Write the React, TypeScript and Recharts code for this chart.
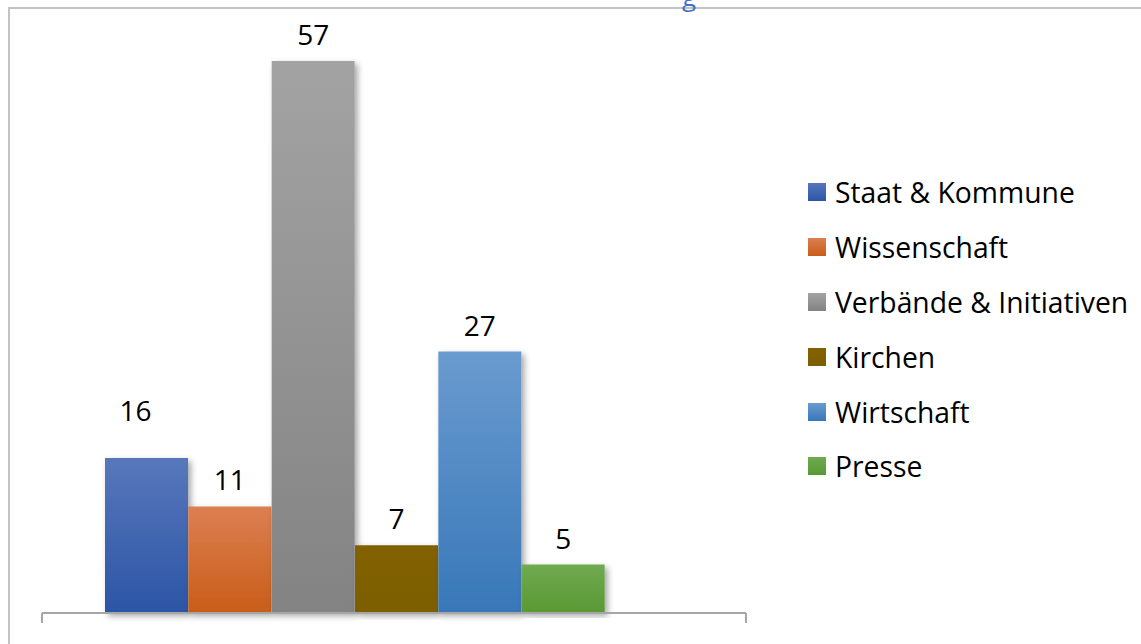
import { Bar, BarChart, Cell, LabelList, XAxis, YAxis } from "recharts";

const groups = [
  "Staat & Kommune",
  "Wissenschaft",
  "Verbände & Initiativen",
  "Kirchen",
  "Wirtschaft",
  "Presse",
];
const counts = [16, 11, 57, 7, 27, 5];
// [top, bottom] of each bar's gradient
const shades = [
  ["#5877bb", "#2c55a6"],
  ["#dc7f52", "#c85d18"],
  ["#a3a3a3", "#838383"],
  ["#826200", "#7d5e00"],
  ["#6a9bcf", "#3877b8"],
  ["#6fab50", "#5a9834"],
];

const rows = groups.map((name, i) => ({ name, value: counts[i] }));
const font = "'Open Sans', sans-serif";

function ValueLabel(props: any) {
  const { x, y, width, value, index } = props;
  // Excel had the first label dragged up and to the left
  const lift = index === 0 ? 37 : 16;
  const shift = index === 0 ? -11 : 0;
  return (
    <text
      x={x + width / 2 + shift}
      y={y - lift}
      textAnchor="middle"
      fontSize={28}
      fontFamily={font}
      fill="#000"
    >
      {value}
    </text>
  );
}

function SideLegend() {
  return (
    <div style={{ fontFamily: font, fontSize: 28.3, color: "#000" }}>
      {groups.map((g, i) => (
        <div
          key={g}
          style={{ display: "flex", alignItems: "center", height: 54.8, whiteSpace: "nowrap" }}
        >
          <span
            style={{
              display: "inline-block",
              width: 18,
              height: 18,
              marginRight: 9,
              background: `linear-gradient(${shades[i][0]}, ${shades[i][1]})`,
            }}
          />
          {g}
        </div>
      ))}
    </div>
  );
}

export default function App() {
  return (
    <div style={{ position: "absolute", left: 0, top: 0, width: 1141, height: 644, background: "#fff", overflow: "hidden" }}>
      <div
        style={{
          position: "absolute",
          left: 8,
          top: 7,
          right: -10,
          bottom: -10,
          borderTop: "2px solid #c3c3c3",
          borderLeft: "2px solid #c3c3c3",
        }}
      />
      <div
        style={{
          position: "absolute",
          left: 682,
          top: -22,
          fontFamily: font,
          fontSize: 26,
          color: "#4472c4",
        }}
      >
        g
      </div>
      <div style={{ position: "absolute", left: 0, top: 0 }}>
        <BarChart
          width={1141}
          height={644}
          data={rows}
          margin={{ top: 32, right: 395, left: 42, bottom: 21 }}
          barCategoryGap={0}
          barGap={0}
        >
          <defs>
            {shades.map((s, i) => (
              <linearGradient key={i} id={`g${i}`} x1="0" y1="0" x2="0" y2="1">
                <stop offset="0%" stopColor={s[0]} />
                <stop offset="100%" stopColor={s[1]} />
              </linearGradient>
            ))}
            <filter id="shadow" x="-20%" y="-5%" width="150%" height="115%">
              <feDropShadow dx={3} dy={3} stdDeviation={3} floodColor="#000" floodOpacity={0.35} />
            </filter>
          </defs>
          <XAxis dataKey="name" hide height={0} padding={{ left: 63, right: 141 }} />
          {/* plain baseline with end ticks, like Excel's single-category axis */}
          <XAxis
            xAxisId="frame"
            type="number"
            dataKey={() => 1}
            domain={[0, 1]}
            allowDataOverflow
            ticks={[0, 1]}
            interval={0}
            tickFormatter={() => ""}
            tickSize={10}
            height={10}
            stroke="#a6a6a6"
            strokeWidth={2}
          />
          <YAxis hide domain={[0, 60]} />
          <Bar dataKey="value" isAnimationActive={false} filter="url(#shadow)">
            {rows.map((r, i) => (
              <Cell key={r.name} fill={`url(#g${i})`} />
            ))}
            <LabelList dataKey="value" content={<ValueLabel />} />
          </Bar>
        </BarChart>
      </div>
      <div style={{ position: "absolute", left: 808, top: 165 }}>
        <SideLegend />
      </div>
    </div>
  );
}
